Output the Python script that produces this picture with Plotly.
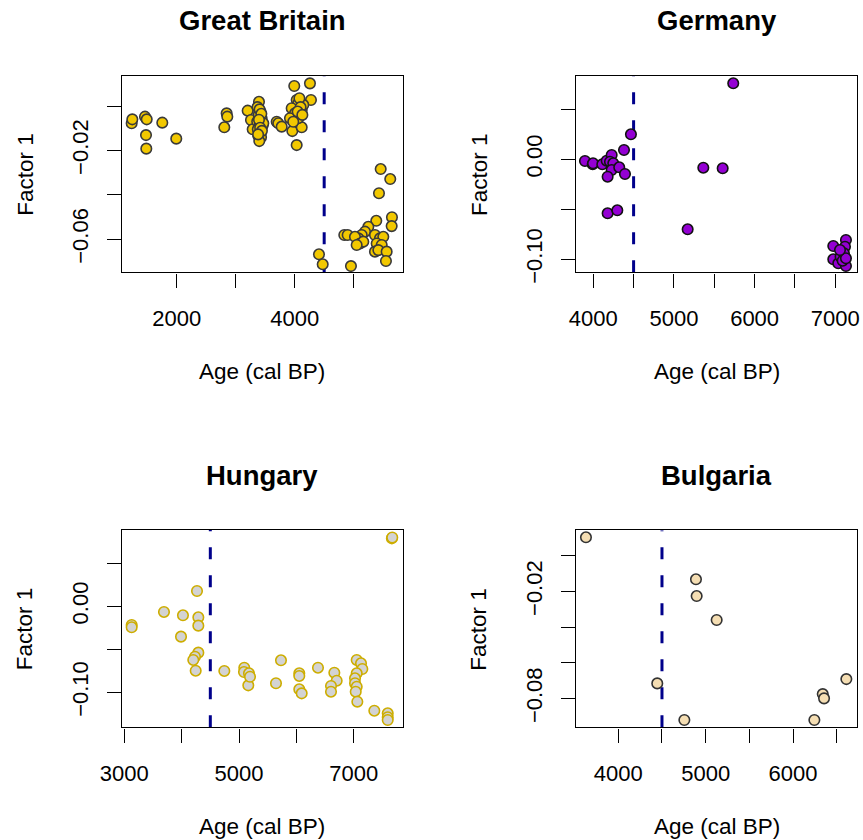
import plotly.graph_objects as go

# ---------------- data ----------------
gb_age = [1237, 1248, 1463, 1492, 1756, 1480, 1485, 1993,
          2847, 2858, 2807,
          3203, 3395, 3259, 3288,
          3370, 3420, 3390, 3440, 3365, 3410, 3455, 3375, 3425, 3385, 3430, 3400, 3468,
          3405, 3435, 3395, 3415, 3445, 3380,
          3695, 3722, 3780, 3960, 4034, 4119, 3993, 4259, 4276,
          4034, 4061, 3949, 4119, 4005, 4146, 3920, 4061, 3976,
          4080, 4100, 4050, 4130,
          4412, 4475, 4954, 5458, 5620, 5429, 5383, 5649, 5644, 4841, 4898,
          5248, 5192, 5136, 5079, 5022, 5107, 5163, 5051,
          5361, 5446, 5502, 5390, 5475, 5361, 5418, 5559, 5547]
gb_f1 = [-0.0078, -0.0060, -0.0048, -0.0060, -0.0075, -0.0131, -0.0192, -0.0147,
         -0.0033, -0.0048, -0.0096,
         -0.0021, 0.0019, -0.0063, -0.0105,
         -0.0005, -0.0025, -0.0040, -0.0055, -0.0070, -0.0080, -0.0090, -0.0105, -0.0120, -0.0135, -0.0141, -0.0158, -0.0078,
         -0.0015, -0.0035, -0.0062, -0.0098, -0.0112, -0.0128,
         -0.0071, -0.0078, -0.0093, -0.0113, -0.0176, -0.0096, 0.0090, 0.0102, 0.0027,
         0.0027, 0.0012, -0.0010, -0.0018, -0.0033, 0.0005, -0.0055, -0.0055, -0.0071,
         0.0035, -0.0005, -0.0025, -0.0040,
         -0.0668, -0.0713, -0.0721, -0.0284, -0.0329, -0.0393, -0.0517, -0.0501, -0.0541, -0.0581, -0.0581,
         -0.0544, -0.0566, -0.0581, -0.0596, -0.0589, -0.0619, -0.0611, -0.0626,
         -0.0581, -0.0596, -0.0589, -0.0619, -0.0626, -0.0656, -0.0649, -0.0656, -0.0698]

de_age = [3897, 3993, 3997, 4112, 4166, 4228, 4207, 4248, 4228, 4178, 4322, 4381, 4393, 4467,
          4178, 4298, 5170, 5364, 5604, 5735,
          6975, 7132, 7120, 6975, 7037, 7132, 7066, 7107, 7091, 7132, 7058]
de_f1 = [-0.0017, -0.0050, -0.0040, -0.0050, -0.0014, 0.0043, -0.0024, -0.0040, -0.0107, -0.0174, -0.0080, 0.0093, -0.0147, 0.0250,
         -0.0540, -0.0510, -0.0700, -0.0084, -0.0090, 0.0760,
         -0.0867, -0.0807, -0.0874, -0.1000, -0.1040, -0.1067, -0.0974, -0.0940, -0.1014, -0.0990, -0.0907]

hu_age = [3129, 3129, 3692, 4023, 3989, 4268, 4291, 4291, 4291, 4233, 4203, 4245, 4744, 5092, 5087, 5174, 5162, 5192,
          5732, 5645, 6051, 6051, 6051, 6093, 6377, 6662, 6703, 6604, 6604,
          7052, 7127, 7150, 7052, 7023, 7023, 7052, 7035, 7063, 7359, 7593, 7593, 7593, 7665, 7672]
hu_f1 = [-0.0217, -0.0244, -0.0066, -0.0105, -0.0353, 0.0178, -0.0128, -0.0225, -0.0539, -0.0586, -0.0624, -0.0749, -0.0752, -0.0714, -0.0764, -0.0779, -0.0919, -0.0819,
         -0.0628, -0.0895, -0.0779, -0.0810, -0.0965, -0.1012, -0.0714, -0.0772, -0.0865, -0.0927, -0.0993,
         -0.0624, -0.0663, -0.0729, -0.0779, -0.0837, -0.0895, -0.0935, -0.0993, -0.1109, -0.1214, -0.1244, -0.1290, -0.1322, 0.0790, 0.0800]

bg_age = [3630, 4889, 4897, 5126, 4446, 4756, 6244, 6340, 6355, 6610]
bg_f1 = [0.0103, -0.0132, -0.0226, -0.0360, -0.0715, -0.0920, -0.0920, -0.0775, -0.0799, -0.0691]

divide_age = 4500

titles = ["Great Britain", "Germany", "Hungary", "Bulgaria"]
x_title = "Age (cal BP)"
y_title = "Factor 1"

gb_xticks = [2000, 3000, 4000, 5000]
gb_xlabels = ["2000", "", "4000", ""]
gb_yticks = [0.00, -0.02, -0.04, -0.06]
gb_ylabels = ["", "\u22120.02", "", "\u22120.06"]

de_xticks = [4000, 4500, 5000, 5500, 6000, 6500, 7000]
de_xlabels = ["4000", "", "5000", "", "6000", "", "7000"]
de_yticks = [0.05, 0.00, -0.05, -0.10]
de_ylabels = ["", "0.00", "", "\u22120.10"]

hu_xticks = [3000, 4000, 5000, 6000, 7000]
hu_xlabels = ["3000", "", "5000", "", "7000"]
hu_yticks = [0.05, 0.00, -0.05, -0.10]
hu_ylabels = ["", "0.00", "", "\u22120.10"]

bg_xticks = [4000, 4500, 5000, 5500, 6000, 6500]
bg_xlabels = ["4000", "", "5000", "", "6000", ""]
bg_yticks = [0.00, -0.02, -0.04, -0.06, -0.08]
bg_ylabels = ["", "\u22120.02", "", "", "\u22120.08"]

# ---------------- figure ----------------
W, H = 863, 840
FONT = "Liberation Sans, Arial, Helvetica, sans-serif"


def fx(px):
    return px / W


def fy(py):
    return 1 - py / H


panels = [
    dict(x=gb_age, y=gb_f1, fill="#F2C800", edge="#3A3A3A",
         xr=[1068, 5831], yr=[-0.0749, 0.01365], box=(121.7, 402.7, 75.7, 272.3),
         xt=gb_xticks, xl=gb_xlabels, yt=gb_yticks, yl=gb_ylabels),
    dict(x=de_age, y=de_f1, fill="#9400D3", edge="#111111",
         xr=[3786, 7269], yr=[-0.1130, 0.0836], box=(576, 857, 75.7, 272.3),
         xt=de_xticks, xl=de_xlabels, yt=de_yticks, yl=de_ylabels),
    dict(x=hu_age, y=hu_f1, fill="#D3D3D3", edge="#CDAD00",
         xr=[2955, 7854], yr=[-0.1407, 0.0887], box=(121.7, 402.7, 530, 727.3),
         xt=hu_xticks, xl=hu_xlabels, yt=hu_yticks, yl=hu_ylabels),
    dict(x=bg_age, y=bg_f1, fill="#F5DEB3", edge="#333333",
         xr=[3516, 6732], yr=[-0.0961, 0.01423], box=(576, 857, 530.3, 727.3),
         xt=bg_xticks, xl=bg_xlabels, yt=bg_yticks, yl=bg_ylabels),
]

fig = go.Figure()
layout = dict(width=W, height=H, autosize=False, showlegend=False,
              margin=dict(l=0, r=0, t=0, b=0, autoexpand=False),
              paper_bgcolor="white", plot_bgcolor="white",
              font=dict(family=FONT, size=22, color="black"))
annotations = []

for i, p in enumerate(panels):
    n = "" if i == 0 else str(i + 1)
    xa, ya = "x" + n, "y" + n
    x0, x1, y0, y1 = p["box"]
    fig.add_trace(go.Scatter(
        x=[divide_age, divide_age], y=[p["yr"][0], p["yr"][1]], mode="lines",
        line=dict(color="#00008B", width=3, dash="12px,16px"),
        xaxis=xa, yaxis=ya, hoverinfo="skip"))
    fig.add_trace(go.Scatter(
        x=p["x"], y=p["y"], mode="markers",
        marker=dict(size=10.5, color=p["fill"], line=dict(color=p["edge"], width=1.6)),
        xaxis=xa, yaxis=ya))
    common = dict(showgrid=False, zeroline=False, showline=True, linecolor="black",
                  linewidth=1.4, mirror=True, ticks="outside", ticklen=14, tickwidth=1.4,
                  tickcolor="black", automargin=False,
                  tickfont=dict(family=FONT, size=22, color="black"))
    layout["xaxis" + n] = dict(common, domain=[fx(x0), fx(x1)], range=p["xr"],
                               anchor=ya, tickmode="array", tickvals=p["xt"], ticktext=p["xl"],
                               ticklabelstandoff=12)
    layout["yaxis" + n] = dict(common, domain=[fy(y1), fy(y0)], range=p["yr"],
                               anchor=xa, tickmode="array", tickvals=p["yt"], ticktext=p["yl"],
                               tickangle=-90, ticklabelstandoff=10)
    cx = (x0 + x1) / 2
    annotations.append(dict(text="<b>" + titles[i] + "</b>", x=fx(cx), y=fy(y0 - 55),
                            xref="paper", yref="paper", showarrow=False,
                            xanchor="center", yanchor="middle",
                            font=dict(family=FONT, size=27.5, color="black")))
    annotations.append(dict(text=x_title, x=fx(cx), y=fy(y1 + 99),
                            xref="paper", yref="paper", showarrow=False,
                            xanchor="center", yanchor="middle",
                            font=dict(family=FONT, size=22.5, color="black")))
    annotations.append(dict(text=y_title, x=fx(x0 - 97), y=fy((y0 + y1) / 2),
                            xref="paper", yref="paper", showarrow=False, textangle=-90,
                            xanchor="center", yanchor="middle",
                            font=dict(family=FONT, size=22.5, color="black")))

layout["annotations"] = annotations
fig.update_layout(**layout)
fig.write_html("out.html", config={"displayModeBar": False},
               post_script="document.body.style.margin='0';document.body.style.overflow='hidden';")
